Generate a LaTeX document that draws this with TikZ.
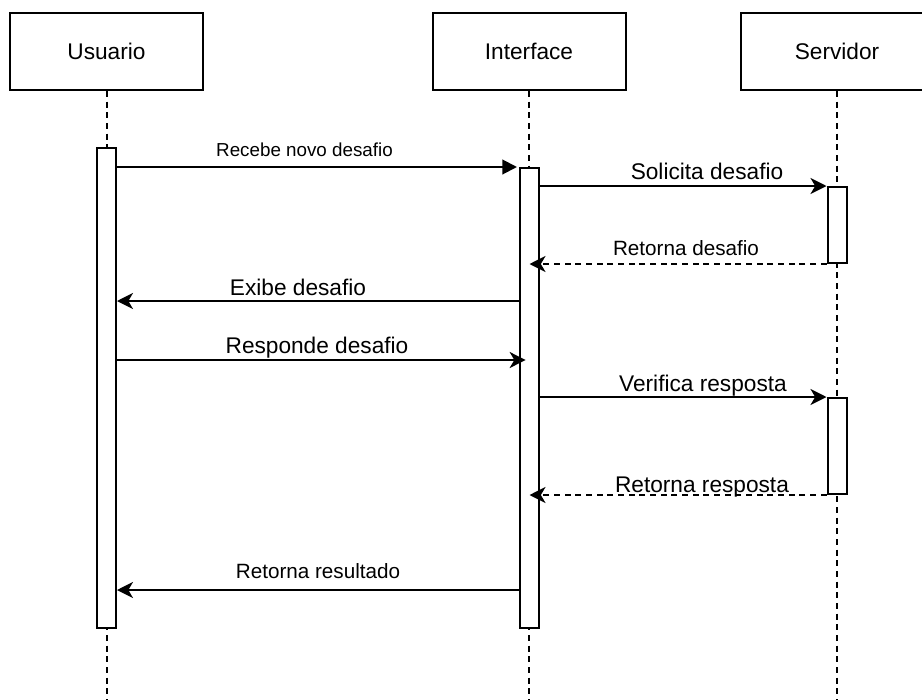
\documentclass[tikz,border=0pt]{standalone}
\usepackage{fontspec}
\setmainfont{Liberation Sans}
\usetikzlibrary{arrows.meta,positioning}

\tikzset{
  actor/.style={draw, line width=1.5pt, fill=white, minimum width=144.75pt,
    minimum height=57.75pt, inner sep=0pt, font=\fontsize{17}{20}\selectfont},
  bar/.style={draw, line width=1.5pt, fill=white, minimum width=14.25pt, inner sep=0pt},
  life/.style={line width=1.5pt, dash pattern=on 4.5pt off 3.5pt},
  msg/.style={line width=1.5pt, -{Stealth[length=12pt,width=12pt,inset=3.5pt]}},
  ret/.style={msg, dash pattern=on 4.5pt off 3.5pt},
  lbl/.style={anchor=base, inner sep=0pt},
  big/.style={lbl, font=\fontsize{17}{20}\selectfont},
  mid/.style={lbl, font=\fontsize{15.5}{18}\selectfont},
  sml/.style={lbl, font=\fontsize{14.1}{17}\selectfont}
}

\begin{document}
\begin{tikzpicture}[x=0.75pt,y=-0.75pt]
  \clip (0,0) rectangle (922,700);
  % participants
  \node[actor] (usr) at (106.5,51.5) {Usuario};
  \node[actor] (itf) at (529,51.5) {Interface};
  \node[actor] (srv) at (837,51.5) {Servidor};
  \coordinate (bottom) at (0,710);

  % lifelines
  \draw[life] (usr.south) -- (usr.south |- bottom);
  \draw[life] (itf.south) -- (itf.south |- bottom);
  \draw[life] (srv.south) -- (srv.south |- bottom);

  % activations
  \node[bar, minimum height=360pt] (usrbar) at (106.5,388) {};
  \node[bar, minimum height=345pt] (itfbar) at (529.5,398) {};
  \node[bar, minimum height=57pt] (srvbar1) at (837,225) {};
  \node[bar, minimum height=72pt] (srvbar2) at (837,446) {};

  % message levels
  \coordinate (m4) at (0,301);
  \coordinate (m5) at (0,360);
  \coordinate (m8) at (0,590);

  % messages
  \draw[line width=1.5pt, -{Triangle[length=11pt,width=11pt]}]
    (usrbar.east |- itfbar.north) -- ([xshift=-1.5pt]itfbar.north west);
  \draw[msg] (itfbar.east |- srvbar1.north) -- (srvbar1.north west);
  \draw[ret] (srvbar1.south west) -- (itfbar.center |- srvbar1.south);
  \draw[msg] (itfbar.west |- m4) -- (usrbar.east |- m4);
  \draw[msg] (usrbar.east |- m5) -- ([xshift=5pt]itfbar.west |- m5);
  \draw[msg] (itfbar.east |- srvbar2.north) -- (srvbar2.north west);
  \draw[ret] (srvbar2.south west) -- (itfbar.center |- srvbar2.south);
  \draw[msg] (itfbar.west |- m8) -- (usrbar.east |- m8);

  % labels
  \node[sml] (l1) at (304.5,156) {Recebe novo desafio};
  \node[big] (l2) at (707,179) {Solicita desafio};
  \node[mid] (l3) at (686,255) {Retorna desafio};
  \node[big] (l4) at (298,295) {Exibe desafio};
  \node[big] (l5) at (317,353) {Responde desafio};
  \node[big] (l6) at (703,391) {Verifica resposta};
  \node[big] (l7) at (702,492) {Retorna resposta};
  \node[mid] (l8) at (318,578) {Retorna resultado};
\end{tikzpicture}
\end{document}
